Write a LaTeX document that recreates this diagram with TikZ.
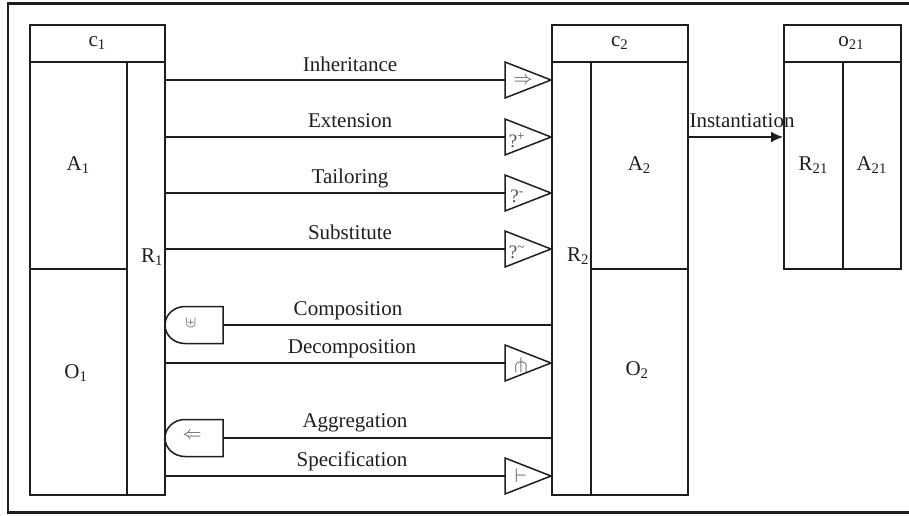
\RequirePackage{fix-cm}
\documentclass[tikz,border=0pt]{standalone}
\usepackage{fontspec}
\usepackage{amssymb}
\setmainfont{Liberation Serif}
\usetikzlibrary{arrows.meta}
\definecolor{ink}{HTML}{1E1E1E}
\definecolor{symc}{HTML}{505050}
\newcommand{\bigtxt}{\fontsize{21}{25}\selectfont}
\begin{document}
\begin{tikzpicture}[x=1pt,y=-1pt,
  lw/.style={line width=1.5pt, draw=ink},
  box/.style={lw, rectangle, inner sep=0pt, anchor=north west, font=\bigtxt, text=ink},
  lab/.style={anchor=base, inner sep=0pt, font=\bigtxt, text=ink},
  txt/.style={inner sep=0pt, font=\bigtxt, text=ink},
  tri/.style={lw, fill=white, line join=miter},
  sym/.style={text=symc, inner sep=0pt},
]
\clip (0,0) rectangle (909,515);
% frame
\draw[line width=2.8pt, draw=ink] (920,3.5) -- (8,3.5) -- (8,512.5) -- (920,512.5);

% ---- class c1
\node[box, minimum width=135pt, minimum height=37pt] (c1h) at (29,24) {c\textsubscript{1}};
\node[box, minimum width=97pt, minimum height=207pt] (c1a) at (29,61) {A\textsubscript{1}};
\node[box, minimum width=97pt, minimum height=226pt] (c1o) at (29,268) {};
\node[box, minimum width=38pt, minimum height=433pt] (c1r) at (126,61) {};
\node[txt] (o1l) at (76,373) {O\textsubscript{1}};
\node[txt] (r1l) at (152,257) {R\textsubscript{1}};

% ---- class c2
\node[box, minimum width=136pt, minimum height=37pt] (c2h) at (551,24) {c\textsubscript{2}};
\node[box, minimum width=39pt, minimum height=433pt] (c2r) at (551,61) {};
\node[box, minimum width=97pt, minimum height=207pt] (c2a) at (590,61) {A\textsubscript{2}};
\node[box, minimum width=97pt, minimum height=226pt] (c2o) at (590,268) {};
\node[txt] (o2l) at (637,370) {O\textsubscript{2}};
\node[txt] (r2l) at (578,256) {R\textsubscript{2}};

% ---- object o21
\node[box, minimum width=117pt, minimum height=37pt] (oh) at (783,24) {\hspace{18pt}o\textsubscript{21}};
\node[box, minimum width=59pt, minimum height=207pt] (or) at (783,61) {R\textsubscript{21}};
\node[box, minimum width=58pt, minimum height=207pt] (oa) at (842,61) {A\textsubscript{21}};

% ---- instantiation
\coordinate (ins) at (687,137);
\draw[lw, -{Latex[length=12pt,width=11pt]}] (ins) -- (ins -| or.west);
\node[lab] (insl) at (742,127) {Instantiation};

% ---- triangle connectors (c1 -> c2)
\coordinate (t1) at (505,80);
\coordinate (t2) at (505,137);
\coordinate (t3) at (505,193);
\coordinate (t4) at (505,249);
\coordinate (t5) at (505,363);
\coordinate (t6) at (505,476);
\foreach \t in {t1,t2,t3,t4,t5,t6}{
  \draw[lw] (c1r.east |- \t) -- (\t);
  \draw[tri] ([yshift=18pt]\t) -- (\t -| c2r.west) -- ([yshift=-18pt]\t) -- cycle;
}
\node[lab] at (350,71) {Inheritance};
\node[lab] at (350,127) {Extension};
\node[lab] at (350,183) {Tailoring};
\node[lab] at (350,239) {Substitute};
\node[lab] at (352,353) {Decomposition};
\node[lab] at (352,466) {Specification};

\node[sym, font=\fontsize{19}{22}\selectfont] at (523,81) {$\Rightarrow$};
\node[sym, font=\fontsize{19}{21}\selectfont] at (517,140) {?\textsuperscript{+}};
\node[sym, font=\fontsize{19}{21}\selectfont] at (517,196) {?\textsuperscript{-}};
\node[sym, font=\fontsize{19}{21}\selectfont] at (517,252) {?\textsuperscript{\textasciitilde}};
\node[sym, font=\fontsize{20}{22}\selectfont] at (521,366) {$\pitchfork$};
\node[sym, font=\fontsize{20}{22}\selectfont] at (521,476) {$\vdash$};

% ---- D-shaped connectors (c2 -> c1)
\coordinate (d1) at (223,325);
\coordinate (d2) at (223,438);
\foreach \d in {d1,d2}{
  \draw[lw] ([yshift=18.5pt]\d) -- ++(-38pt,0pt) arc[start angle=90, end angle=270, x radius=20pt, y radius=18.5pt] -- ([yshift=-18.5pt]\d) -- cycle;
  \draw[lw] (\d) -- (\d -| c2r.west);
}
\node[lab] at (348,315) {Composition};
\node[lab] at (355,427) {Aggregation};
\node[sym, font=\fontsize{16}{18}\selectfont] at (191,323) {$\uplus$};
\node[sym, font=\fontsize{19}{22}\selectfont] at (192,436) {$\Leftarrow$};
\end{tikzpicture}
\end{document}
